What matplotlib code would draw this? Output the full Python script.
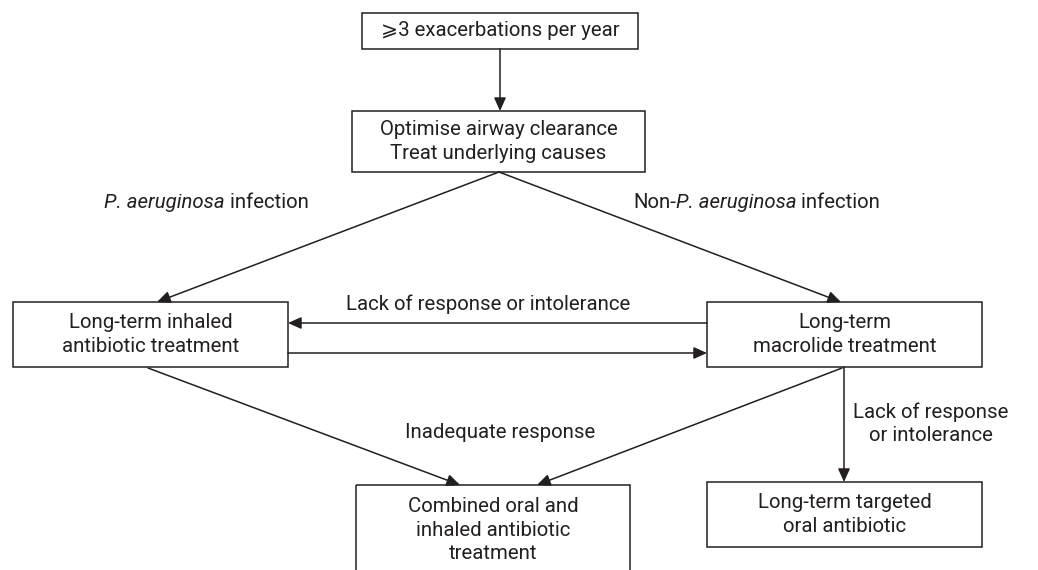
import matplotlib
matplotlib.use("Agg")
import matplotlib.pyplot as plt
from matplotlib.patches import Rectangle, FancyArrowPatch, ArrowStyle

plt.rcParams['font.family'] = ['Roboto', 'DejaVu Sans']

# box texts
box_names = ['start', 'optimise', 'inhaled', 'macrolide', 'combined', 'targeted']
box_texts = ['\u2a7e3 exacerbations per year',
             'Optimise airway clearance\nTreat underlying causes',
             'Long-term inhaled\nantibiotic treatment',
             'Long-term\nmacrolide treatment',
             'Combined oral and\ninhaled antibiotic\ntreatment',
             'Long-term targeted\noral antibiotic']

# connections (from, to)
edges = [('start', 'optimise'), ('optimise', 'inhaled'), ('optimise', 'macrolide'),
         ('macrolide', 'inhaled'), ('inhaled', 'macrolide'),
         ('inhaled', 'combined'), ('macrolide', 'combined'), ('macrolide', 'targeted')]

# layout in pixels: left, top, right, bottom
boxes = {
    'start': (362, 13, 638, 49),
    'optimise': (352, 111, 645, 172),
    'inhaled': (13, 302, 288, 367),
    'macrolide': (707, 302, 982, 367),
    'combined': (356, 485, 630, 590),
    'targeted': (707, 482, 982, 547),
}
# arrow endpoints for each edge
arrow_pts = [((500, 49), (500, 111)),
             ((499, 172), (157, 302)),
             ((499, 172), (841, 302)),
             ((707, 323), (288, 323)),
             ((288, 353), (707, 353)),
             ((148, 368), (460, 485)),
             ((842, 368), (537, 485)),
             ((844, 367), (844, 482))]

INK = '#231f20'
FS = 14.7

fig = plt.figure(figsize=(10.38, 5.70), dpi=100)
ax = fig.add_axes([0, 0, 1, 1])
ax.set_xlim(0, 1038)
ax.set_ylim(570, 0)
ax.axis('off')

for name, txt in zip(box_names, box_texts):
    l, t, r, b = boxes[name]
    ax.add_patch(Rectangle((l, t), r - l, b - t, fill=False, ec=INK, lw=1.1))
    cy = (t + b) / 2 if name != 'combined' else 530
    ax.text((l + r) / 2, cy, txt, ha='center', va='center', fontsize=FS,
            color=INK, linespacing=1.27)

style = ArrowStyle('-|>', head_length=8, head_width=3.6)
for (p0, p1) in arrow_pts:
    ax.add_patch(FancyArrowPatch(p0, p1, arrowstyle=style, mutation_scale=1,
                                 shrinkA=0, shrinkB=0, color=INK, lw=1.1))


def mixed(x, y, parts):
    # parts: list of (text, italic)
    prev = None
    for s, it in parts:
        kw = dict(fontsize=FS, color=INK, fontstyle='italic' if it else 'normal')
        if prev is None:
            prev = ax.text(x, y, s, ha='left', va='baseline', **kw)
        else:
            prev = ax.annotate(s, xy=(1, 0), xycoords=prev, ha='left',
                               va='bottom', **kw)


mixed(104, 208, [('P. aeruginosa', True), (' infection', False)])
mixed(633, 208, [('Non-', False), ('P. aeruginosa', True), (' infection', False)])
ax.text(488, 304, 'Lack of response or intolerance', ha='center', va='center',
        fontsize=FS, color=INK)
ax.text(500, 432, 'Inadequate response', ha='center', va='center',
        fontsize=FS, color=INK)
ax.text(931, 424, 'Lack of response\nor intolerance', ha='center', va='center',
        fontsize=FS, color=INK, linespacing=1.27)

fig.savefig('out.png', dpi=100)
